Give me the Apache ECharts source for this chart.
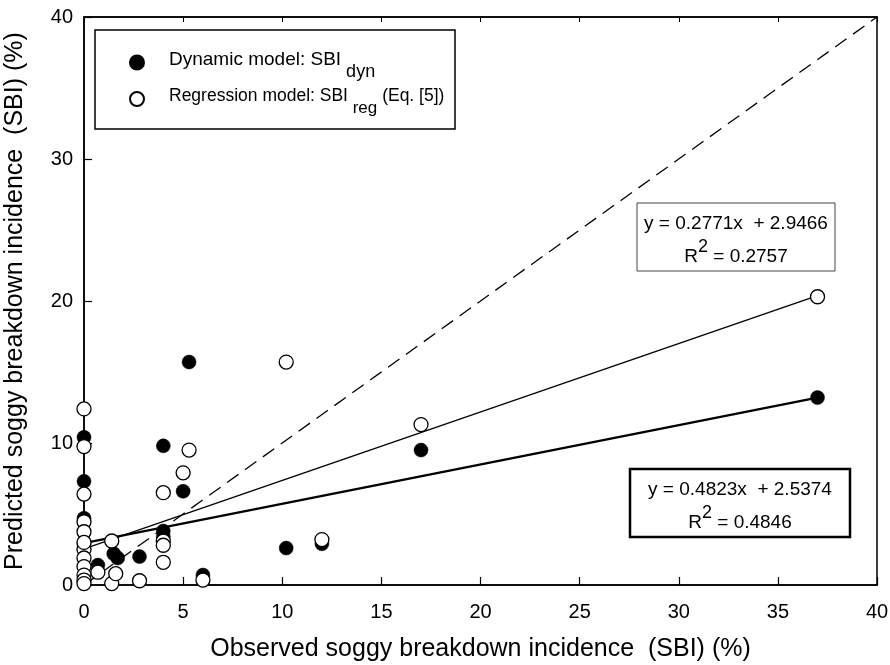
<!DOCTYPE html>
<html><head><meta charset="utf-8">
<script src="https://cdn.jsdelivr.net/npm/echarts@6/dist/echarts.min.js"></script>
<style>html,body{margin:0;padding:0;background:#fff}#c{width:890px;height:665px}</style>
</head><body><div id="c"></div>
<script>
// Observed vs predicted SBI (%)
const dynX = [0, 0, 0, 0, 0, 0.7, 1.5, 1.7, 2.8, 4.0, 4.0, 4.0, 5.0, 5.3, 6.0, 10.2, 12.0, 17.0, 37.0];
const dynY = [10.4, 7.3, 4.7, 2.9, 2.6, 1.4, 2.2, 1.9, 2.0, 9.8, 3.8, 3.4, 6.6, 15.7, 0.7, 2.6, 2.9, 9.5, 13.2];
const regX = [0, 0, 0, 0, 0, 0, 0, 0, 0, 0, 0, 0, 0.7, 1.4, 1.4, 1.6, 2.8, 4.0, 4.0, 4.0, 4.0, 5.0, 5.3, 6.0, 10.2, 12.0, 17.0, 37.0];
const regY = [12.4, 9.75, 6.4, 4.45, 3.75, 2.5, 1.9, 1.3, 0.7, 0.35, 0.1, 3.0, 0.9, 3.1, 0.1, 0.8, 0.3, 6.5, 3.1, 2.8, 1.6, 7.9, 9.5, 0.35, 15.7, 3.2, 11.3, 20.3];
// regression fits: [slope, intercept], R^2
const fitDyn = [0.2771, 2.9466];
const r2Dyn = 0.2757;
const fitReg = [0.4823, 2.5374];
const r2Reg = 0.4846;
const fitRange = [0, 37];
const oneToOne = [0, 40];
const xTicks = [0, 40, 5];
const yTicks = [0, 40, 10];
const seriesNames = ['Dynamic model: SBI', 'Regression model: SBI'];
const subNames = ['dyn', 'reg'];

const FONT = '"Liberation Sans", Arial, Helvetica, sans-serif';
const chart = echarts.init(document.getElementById('c'));

function fitLine(f) {
  return fitRange.map(x => [x, f[0] * x + f[1]]);
}
const dynData = dynX.map((x, i) => [x, dynY[i]]);
const regData = regX.map((x, i) => [x, regY[i]]);

const legRich = {
  a: {fontSize: 19, fontFamily: FONT, color: '#000', padding: [0, 0, 6, 20]},
  s: {fontSize: 18, fontFamily: FONT, color: '#000', padding: [20, 0, 0, 0]},
  a2: {fontSize: 17.5, fontFamily: FONT, color: '#000', padding: [0, 0, 6, 20]},
  b2: {fontSize: 17.5, fontFamily: FONT, color: '#000', padding: [0, 0, 6, 0]},
  s2: {fontSize: 17, fontFamily: FONT, color: '#000', padding: [18, 0, 0, 0]}
};
function legFmt(name) {
  if (name === seriesNames[0]) return '{a|' + seriesNames[0] + '}{s| ' + subNames[0] + '}';
  return '{a2|' + seriesNames[1] + '}{s2| ' + subNames[1] + '}{b2| (Eq. [5])}';
}
const eqRich = {
  t: {fontSize: 19, fontFamily: FONT, color: '#000'},
  p: {fontSize: 18, fontFamily: FONT, color: '#000', padding: [0, 0, 20, 0]}
};
function eqText(f) {
  return '{t|y = ' + f[0].toFixed(4) + 'x  + ' + f[1].toFixed(4) + '}';
}
function r2Text(r) {
  return '{t|R}{p|2}{t| = ' + r.toFixed(4) + '}';
}

const option = {
  backgroundColor: '#fff',
  animation: false,
  textStyle: {fontFamily: FONT},
  grid: {left: 84, right: 13, top: 17, bottom: 80, show: true, borderColor: '#000', borderWidth: 1.5,
         backgroundColor: 'transparent', containLabel: false, outerBoundsMode: 'none'},
  legend: [
    {data: [seriesNames[0]], left: 129, top: 50, padding: 0, itemWidth: 14, itemHeight: 14, formatter: legFmt, textStyle: {rich: legRich}},
    {data: [seriesNames[1]], left: 129, top: 87, padding: 0, itemWidth: 14, itemHeight: 14, formatter: legFmt, textStyle: {rich: legRich}}
  ],
  xAxis: [
    {type: 'value', position: 'bottom', min: xTicks[0], max: xTicks[1], interval: xTicks[2],
     axisLine: {onZero: false, lineStyle: {color: '#000', width: 1.5}},
     axisTick: {inside: true, length: 8, lineStyle: {color: '#000', width: 1.2}},
     splitLine: {show: false},
     axisLabel: {fontSize: 20, color: '#000', margin: 17, fontFamily: FONT},
     name: 'Observed soggy breakdown incidence  (SBI) (%)', nameLocation: 'middle', nameGap: 52,
     nameTextStyle: {fontSize: 25, color: '#000', fontFamily: FONT}},
    {type: 'value', position: 'top', min: xTicks[0], max: xTicks[1], interval: xTicks[2],
     axisLine: {onZero: false, lineStyle: {color: '#000', width: 1.5}},
     axisTick: {inside: true, length: 5, lineStyle: {color: '#000', width: 1}},
     splitLine: {show: false}, axisLabel: {show: false}}
  ],
  yAxis: [
    {type: 'value', min: yTicks[0], max: yTicks[1], interval: yTicks[2],
     axisLine: {onZero: false, show: true, lineStyle: {color: '#000', width: 1.5}},
     axisTick: {show: true, inside: true, length: 8, lineStyle: {color: '#000', width: 1.2}},
     splitLine: {show: false},
     axisLabel: {fontSize: 20, color: '#000', margin: 11, fontFamily: FONT},
     name: 'Predicted soggy breakdown incidence  (SBI) (%)', nameLocation: 'middle', nameGap: 56,
     nameTextStyle: {fontSize: 25, color: '#000', fontFamily: FONT}}
  ],
  series: [
    {type: 'line', name: '1:1', data: oneToOne.map(v => [v, v]), symbol: 'none', silent: true,
     lineStyle: {color: '#000', width: 1.3, type: [14, 8]}, z: 1},
    {type: 'line', name: 'fitDyn', data: fitLine(fitDyn), symbol: 'none', silent: true,
     lineStyle: {color: '#000', width: 2.3}, z: 2},
    {type: 'line', name: 'fitReg', data: fitLine(fitReg), symbol: 'none', silent: true,
     lineStyle: {color: '#000', width: 1.3}, z: 2},
    {type: 'scatter', name: seriesNames[0], data: dynData, symbol: 'circle', symbolSize: 14,
     itemStyle: {color: '#000', borderColor: '#000', borderWidth: 0.5, opacity: 1}, z: 3},
    {type: 'scatter', name: seriesNames[1], data: regData, symbol: 'circle', symbolSize: 14,
     itemStyle: {color: '#fff', borderColor: '#000', borderWidth: 1.3, opacity: 1}, z: 4}
  ],
  graphic: [
    {type: 'rect', shape: {x: 95, y: 30, width: 360, height: 99}, style: {fill: 'none', stroke: '#000', lineWidth: 1.5}, z: 10},
    {type: 'rect', shape: {x: 637, y: 203, width: 198, height: 68}, style: {fill: '#fff', stroke: '#444', lineWidth: 1}, z: 10},
    {type: 'text', x: 736, y: 224, style: {text: eqText(fitDyn), rich: eqRich, align: 'center', verticalAlign: 'middle'}, z: 11},
    {type: 'text', x: 736, y: 257, style: {text: r2Text(r2Dyn), rich: eqRich, align: 'center', verticalAlign: 'middle'}, z: 11},
    {type: 'rect', shape: {x: 630, y: 469, width: 220, height: 68}, style: {fill: '#fff', stroke: '#000', lineWidth: 2.5}, z: 10},
    {type: 'text', x: 740, y: 490, style: {text: eqText(fitReg), rich: eqRich, align: 'center', verticalAlign: 'middle'}, z: 11},
    {type: 'text', x: 740, y: 523, style: {text: r2Text(r2Reg), rich: eqRich, align: 'center', verticalAlign: 'middle'}, z: 11}
  ]
};
chart.setOption(option);
</script></body></html>
